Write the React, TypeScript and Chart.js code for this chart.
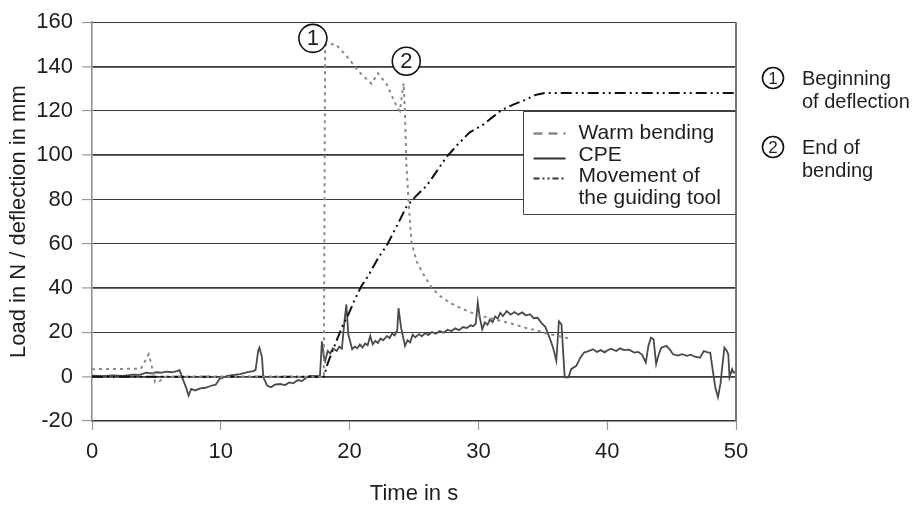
import React, { useEffect, useRef } from "react";
import { Chart, registerables } from "chart.js";

Chart.register(...registerables);

// ---------------- data ----------------
const cpeTime = [
  0, 0.8, 1.6, 2.4, 3.2, 3.7, 4.2, 4.6, 5.0, 5.4, 5.8, 6.2, 6.6, 6.8, 7.0, 7.3, 7.5, 7.7, 8.0, 8.4, 8.8, 9.2, 9.6, 9.9,
  10.5, 11.0, 11.5, 12.0, 12.5, 12.7, 12.9, 13.0, 13.2, 13.3, 13.6, 13.9, 14.2, 14.6, 15.0, 15.3, 15.6, 16.0, 16.3, 16.6, 16.9, 17.3, 17.7,
  17.85, 18.0, 18.1, 18.3, 18.5, 18.7, 19.0, 19.2, 19.4, 19.6, 19.75, 19.9,
  20.2, 20.4, 20.6, 20.8, 21.0, 21.2, 21.4, 21.6, 21.8, 22.0, 22.2, 22.4, 22.6, 22.9, 23.1, 23.3, 23.5, 23.7, 23.8,
  24.0, 24.3, 24.5, 24.7, 24.9, 25.1, 25.4, 25.6, 25.9, 26.1, 26.4, 26.7, 27.0, 27.3, 27.6, 27.9,
  28.2, 28.5, 28.8, 29.1, 29.4, 29.6, 29.8, 29.95, 30.1, 30.3, 30.5, 30.7, 30.9, 31.1, 31.3, 31.5, 31.7, 31.9,
  32.2, 32.5, 32.8, 33.1, 33.4, 33.7, 34.0, 34.3, 34.6, 34.9, 35.2, 35.5, 35.8, 36.05, 36.25, 36.45, 36.7,
  37.0, 37.2, 37.6, 37.9, 38.2, 38.5, 38.9, 39.2, 39.5, 39.8, 40.0, 40.3, 40.7, 41.0, 41.3, 41.7, 42.1, 42.4, 42.7,
  43.0, 43.2, 43.4, 43.6, 43.8, 44.0, 44.2, 44.6, 44.9, 45.1, 45.5, 45.8, 46.2, 46.5, 46.8, 47.2, 47.5, 47.8,
  48.0, 48.2, 48.4, 48.6, 48.8, 48.9, 49.1, 49.3, 49.4, 49.5, 49.7, 49.8, 50,
];
const cpeLoad = [
  0.5, 0.2, 0.6, 0.4, 0.9, 0.8, 1.8, 1.5, 2.0, 1.8, 2.3, 2.0, 2.5, 2.9, -0.3, -4.8, -8.5, -5.5, -6.2, -5.3, -5.0, -4.2, -3.6, -1.0,
  0.4, 0.8, 1.2, 1.9, 2.5, 3.0, 11.6, 13.1, 8.6, -0.3, -4.0, -4.8, -3.6, -3.3, -3.8, -2.6, -3.0, -1.5, -2.0, -0.6, 0.4, 0.2, 0.4,
  16, 9, 7, 11.6, 10.5, 12.8, 11.6, 13.6, 12.6, 25, 32.6, 19,
  12.4, 13.6, 12.8, 14.5, 13.2, 15.0, 14.2, 18.4, 14.6, 16.2, 15.2, 17.2, 16.4, 18.4, 17.4, 19.5, 18.6, 21, 31,
  22, 13.9, 16.5, 15.5, 19, 17.8, 19.2, 18.2, 19.8, 18.8, 20.2, 19.4, 20.6, 19.8, 21.2, 20.6,
  21.8, 21.0, 22.4, 22.0, 23.2, 22.8, 24, 33.5, 27, 21.4, 24.5, 23.4, 25.8, 24.6, 27.2, 26.2, 28.8, 27.4,
  29.6, 28.0, 29.2, 28.0, 29.0, 27.6, 28.2, 26.4, 26.6, 24.2, 22.5, 18, 13.1, 7.2, 25, 23.6, -0.3,
  -0.3, 3.4, 4.9, 8.5, 10.9, 11.4, 12.4, 11.2, 12.0, 11.0, 11.8, 12.6, 11.6, 12.8, 12.0, 12.2, 10.9, 11.2, 10.0,
  6.4, 14, 17.6, 16.9, 5.7, 10, 13.1, 13.9, 12.0, 10.1, 9.5, 10.2, 9.4, 9.9, 9.0, 8.6, 11.6, 11.0,
  10.9, 2.7, -5, -9.3, -3, 2.7, 13.1, 11.5, 10.1, -0.3, 3.4, 1.9, 2.0,
];

const warmTime = [
  0, 3.8, 4.4, 4.6, 4.9, 5.3, 5.6, 18.0, 18.1, 18.9, 19.8, 20.7, 21.7, 22.2, 22.9, 23.7, 23.9, 24.2, 24.3,
  24.4, 24.6, 24.8, 25.2, 25.9, 26.4, 27.0, 27.8, 28.6, 29.5, 30.5, 31.5, 32.8, 33.7, 34.5, 35.3, 36.1, 37.0,
];
const warmLoad = [
  3.4, 3.6, 10.1, 5.8, -2.5, -1.8, 0, 0, 149.7, 150.2, 144.5, 137.8, 132.2, 137, 131.8, 121.4, 119.9, 132.5, 119,
  96.7, 77.4, 61, 52, 44.5, 40, 36.5, 33.3, 31, 28.8, 27, 25.5, 23.6, 22, 20.9, 19.5, 18.4, 17.3,
];

const guideTime = [
  0, 18.0, 18.3, 18.9, 19.5, 19.9, 20.4, 20.9, 21.5, 22.2, 22.9, 23.7, 24.4, 25.2, 26.0, 26.8, 27.5, 28.3,
  29.3, 30.4, 31.2, 31.8, 32.7, 33.5, 34.5, 35.2, 50,
];
const guideDefl = [
  0, 0, 6, 15, 23.6, 28, 34.8, 40.7, 46, 53.4, 59.4, 68.4, 76.6, 81.8, 86.3, 93, 99, 104.2,
  110.2, 113.9, 117.6, 120.3, 122.8, 124.6, 127.3, 128.1, 128.1,
];

const seriesNames = ["Warm bending", "CPE", "Movement of", "the guiding tool"];
const markerTime = [17.15, 24.4];
const markerValue = [152.7, 142.4];
const markerLabels = ["1", "2"];
const noteLines = [["Beginning", "of deflection"], ["End of", "bending"]];
const xTicks = [0, 10, 20, 30, 40, 50];
const yTicks = [-20, 0, 20, 40, 60, 80, 100, 120, 140, 160];

const FONT = "'Liberation Sans', Arial, Helvetica, sans-serif";
const TEXT = "#1e1e1e";

const zip = (xs: number[], ys: number[]) => xs.map((x, i) => ({ x, y: ys[i] }));

const WARM_DASH = [3, 4];
const GUIDE_DASH = [11, 4, 2, 4, 2, 4];

const overlay = {
  id: "overlay",
  afterDraw(chart: any) {
    const { ctx, chartArea, scales } = chart;
    const xs = scales.x;
    const ys = scales.y;
    ctx.save();
    // right border
    ctx.strokeStyle = "#777";
    ctx.lineWidth = 2;
    ctx.beginPath();
    ctx.moveTo(chartArea.right, chartArea.top);
    ctx.lineTo(chartArea.right, chartArea.bottom);
    ctx.stroke();

    // legend box
    const bl = Math.round(chartArea.right - 213) + 0.5;
    const bt = Math.round(ys.getPixelForValue(120)) + 0.5;
    const bb = Math.round(ys.getPixelForValue(73.4)) + 0.5;
    ctx.fillStyle = "#fff";
    ctx.fillRect(bl, bt, chartArea.right - bl - 1, bb - bt);
    ctx.strokeStyle = "#444";
    ctx.lineWidth = 1;
    ctx.beginPath();
    ctx.moveTo(chartArea.right, bt);
    ctx.lineTo(bl, bt);
    ctx.lineTo(bl, bb);
    ctx.lineTo(chartArea.right, bb);
    ctx.stroke();

    ctx.font = `21px ${FONT}`;
    ctx.fillStyle = TEXT;
    ctx.textAlign = "left";
    ctx.textBaseline = "middle";
    const tx = bl + 55;
    const rows = [bt + 22, bt + 44, bt + 65, bt + 87];
    seriesNames.forEach((t, i) => ctx.fillText(t, tx, rows[i]));
    // samples
    const sx0 = bl + 10;
    const sx1 = bl + 42;
    ctx.lineWidth = 2.5;
    ctx.strokeStyle = "#888";
    ctx.setLineDash([9, 6]);
    ctx.beginPath();
    ctx.moveTo(sx0, rows[0]);
    ctx.lineTo(sx1, rows[0]);
    ctx.stroke();
    ctx.strokeStyle = "#333";
    ctx.lineWidth = 2;
    ctx.setLineDash([]);
    ctx.beginPath();
    ctx.moveTo(sx0, rows[1] + 3);
    ctx.lineTo(sx1, rows[1] + 3);
    ctx.stroke();
    ctx.setLineDash([6, 3, 2, 3, 2, 3]);
    ctx.beginPath();
    ctx.moveTo(sx0, rows[2] + 2);
    ctx.lineTo(sx1, rows[2] + 2);
    ctx.stroke();
    ctx.setLineDash([]);

    // markers inside chart
    ctx.lineWidth = 1.6;
    ctx.strokeStyle = "#111";
    markerLabels.forEach((lab, i) => {
      const cx = xs.getPixelForValue(markerTime[i]);
      const cy = ys.getPixelForValue(markerValue[i]);
      ctx.fillStyle = "#fff";
      ctx.beginPath();
      ctx.arc(cx, cy, 14, 0, Math.PI * 2);
      ctx.fill();
      ctx.stroke();
      ctx.fillStyle = TEXT;
      ctx.font = `22px ${FONT}`;
      ctx.textAlign = "center";
      ctx.fillText(lab, cx, cy + 1);
    });

    // notes right
    const nx = chartArea.right + 37;
    const noteY = [78, 147];
    markerLabels.forEach((lab, i) => {
      const cy = noteY[i];
      ctx.beginPath();
      ctx.arc(nx, cy, 10.5, 0, Math.PI * 2);
      ctx.stroke();
      ctx.fillStyle = TEXT;
      ctx.font = `17px ${FONT}`;
      ctx.textAlign = "center";
      ctx.fillText(lab, nx, cy + 1);
      ctx.font = `20px ${FONT}`;
      ctx.textAlign = "left";
      noteLines[i].forEach((t, j) => ctx.fillText(t, nx + 29, cy + 1 + j * 23));
    });
    ctx.restore();
  },
};

export default function App() {
  const ref = useRef<HTMLCanvasElement>(null);
  useEffect(() => {
    document.body.style.margin = "0";
    const canvas = ref.current!;
    const chart = new Chart(canvas, {
      type: "line",
      data: {
        datasets: [
          {
            label: "Warm bending",
            data: zip(warmTime, warmLoad),
            borderColor: "#8a8a8a",
            borderWidth: 2,
            borderDash: WARM_DASH,
            pointRadius: 0,
            fill: false,
          },
          {
            label: "Movement of the guiding tool",
            data: zip(guideTime, guideDefl),
            borderColor: "#111",
            borderWidth: 2,
            borderDash: GUIDE_DASH,
            pointRadius: 0,
            fill: false,
          },
          {
            label: "CPE",
            data: zip(cpeTime, cpeLoad),
            borderColor: "#4a4a4a",
            borderWidth: 1.8,
            pointRadius: 0,
            fill: false,
          },
        ],
      },
      options: {
        animation: false,
        responsive: false,
        maintainAspectRatio: false,
        devicePixelRatio: 1,
        layout: { padding: { left: 0, right: 188, top: 19, bottom: 0 } },
        plugins: { legend: { display: false }, tooltip: { enabled: false } },
        elements: { line: { tension: 0 }, point: { radius: 0 } },
        scales: {
          x: {
            type: "linear",
            min: 0,
            max: 50,
            afterBuildTicks: (s: any) => {
              s.ticks = xTicks.map((v) => ({ value: v }));
            },
            afterFit: (s: any) => {
              s.height = 85;
            },
            grid: { drawOnChartArea: false, tickLength: 9, tickColor: "#999", tickWidth: 1.2 },
            border: { color: "#333", width: 1.5 },
            ticks: { color: TEXT, font: { family: FONT, size: 22 }, padding: 9, maxRotation: 0 },
            title: {
              display: true,
              text: "Time in s",
              color: TEXT,
              font: { family: FONT, size: 22, lineHeight: 1 },
              padding: { top: 0, bottom: 1 },
            },
          },
          y: {
            type: "linear",
            min: -20,
            max: 160,
            afterBuildTicks: (s: any) => {
              s.ticks = yTicks.map((v) => ({ value: v }));
            },
            afterFit: (s: any) => {
              s.width = 92;
            },
            grid: {
              color: "#3a3a3a",
              lineWidth: (c: any) => ([0, 40, 100, 140].includes(c.tick?.value) ? 1.8 : 1.1),
              tickLength: 10,
              tickColor: "#999",
              tickWidth: 1.2,
            },
            border: { color: "#888", width: 1.5 },
            ticks: { color: TEXT, font: { family: FONT, size: 22 }, padding: 9 },
            title: {
              display: true,
              text: "Load in N / deflection in mm",
              color: TEXT,
              font: { family: FONT, size: 22, lineHeight: 1 },
              padding: { top: 8, bottom: 0 },
            },
          },
        },
      },
      plugins: [overlay],
    });
    return () => chart.destroy();
  }, []);
  return (
    <div style={{ width: 924, height: 506, background: "#fff" }}>
      <canvas ref={ref} width={924} height={506} style={{ display: "block" }} />
    </div>
  );
}
